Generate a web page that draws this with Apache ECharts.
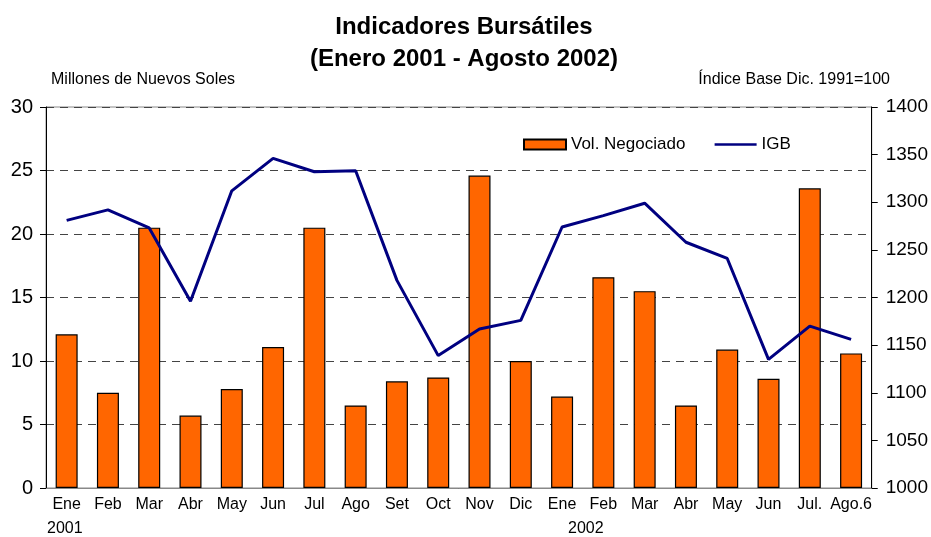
<!DOCTYPE html>
<html><head><meta charset="utf-8">
<script src="https://cdn.jsdelivr.net/npm/echarts@6/dist/echarts.min.js"></script>
<style>html,body{margin:0;padding:0;background:#fff}#c{width:931px;height:537px}</style>
</head><body><div id="c"></div>
<script>
const categories = ['Ene','Feb','Mar','Abr','May','Jun','Jul','Ago','Set','Oct','Nov','Dic','Ene','Feb','Mar','Abr','May','Jun','Jul.','Ago.6'];
const volNegociado = [12.1,7.5,20.5,5.7,7.8,11.1,20.5,6.5,8.4,8.7,24.6,10.0,7.2,16.6,15.5,6.5,10.9,8.6,23.6,10.6];
const igb = [1281,1292,1273,1196,1312,1346,1332,1333,1218,1139,1167,1176,1274,1286,1299,1258,1241,1135,1170,1156];
const leftTicks = [0,5,10,15,20,25,30];
const rightTicks = [1000,1050,1100,1150,1200,1250,1300,1350,1400];
const yearLabels = ['2001','2002'];

const FONT = 'Liberation Sans, Arial, sans-serif';
const chart = echarts.init(document.getElementById('c'), null, {renderer:'canvas'});
chart.setOption({
  animation:false,
  backgroundColor:'#fff',
  title:[
    {text:'Indicadores Bursátiles\n(Enero 2001 - Agosto 2002)', left:459, top:6, textAlign:'center',
     textStyle:{fontFamily:FONT, fontWeight:'bold', fontSize:24, lineHeight:32, color:'#000'}},
    {text:'Millones de Nuevos Soles', left:46, top:67, textStyle:{fontFamily:FONT, fontWeight:'normal', fontSize:16, color:'#000'}},
    {text:'Índice Base Dic. 1991=100', right:36, top:67, textStyle:{fontFamily:FONT, fontWeight:'normal', fontSize:16, color:'#000'}}
  ],
  legend:{
    left:518, top:131, itemGap:28, itemWidth:42, itemHeight:10,
    textStyle:{fontFamily:FONT, fontSize:17, color:'#000'},
    data:[
      {name:'Vol. Negociado', icon:'rect'},
      {name:'IGB', itemStyle:{opacity:0}, lineStyle:{width:2.5, color:'#000080'}}
    ]
  },
  grid:{left:46, right:59, top:107, bottom:49, containLabel:false, show:true, borderColor:'#888', borderWidth:1},
  xAxis:{
    type:'category', data:categories,
    axisLine:{show:true, lineStyle:{color:'#888', width:1}},
    axisTick:{show:false},
    axisLabel:{fontFamily:FONT, fontSize:16, color:'#000', margin:9, interval:0}
  },
  yAxis:[
    {type:'value', min:leftTicks[0], max:leftTicks[leftTicks.length-1], interval:5, position:'left',
     axisLine:{show:true, lineStyle:{color:'#000', width:1}},
     axisTick:{show:true, inside:false, length:6, lineStyle:{color:'#000'}},
     axisLabel:{fontFamily:FONT, fontSize:20, color:'#000', margin:13},
     splitLine:{show:true, lineStyle:{color:'#444', type:[8,6], width:1}}},
    {type:'value', min:rightTicks[0], max:rightTicks[rightTicks.length-1], interval:50, position:'right',
     axisLine:{show:true, lineStyle:{color:'#000', width:1}},
     axisTick:{show:true, length:6, lineStyle:{color:'#000'}},
     axisLabel:{fontFamily:FONT, fontSize:19, color:'#000', margin:14, formatter:v=>String(v)},
     splitLine:{show:false}}
  ],
  series:[
    {name:'Vol. Negociado', type:'bar', data:volNegociado, yAxisIndex:0, barWidth:22,
     itemStyle:{color:'#FF6600', borderColor:'#000', borderWidth:1.2}, z:3},
    {name:'IGB', type:'line', data:igb, yAxisIndex:1, symbol:'none',
     lineStyle:{color:'#000080', width:3}, itemStyle:{color:'#000080'}, z:4}
  ],
  graphic:[
    {type:'text', left:47, top:521, style:{text:yearLabels[0], font:'16px '+FONT, fill:'#000'}},
    {type:'text', left:568, top:521, style:{text:yearLabels[1], font:'16px '+FONT, fill:'#000'}}
  ]
});
</script></body></html>
